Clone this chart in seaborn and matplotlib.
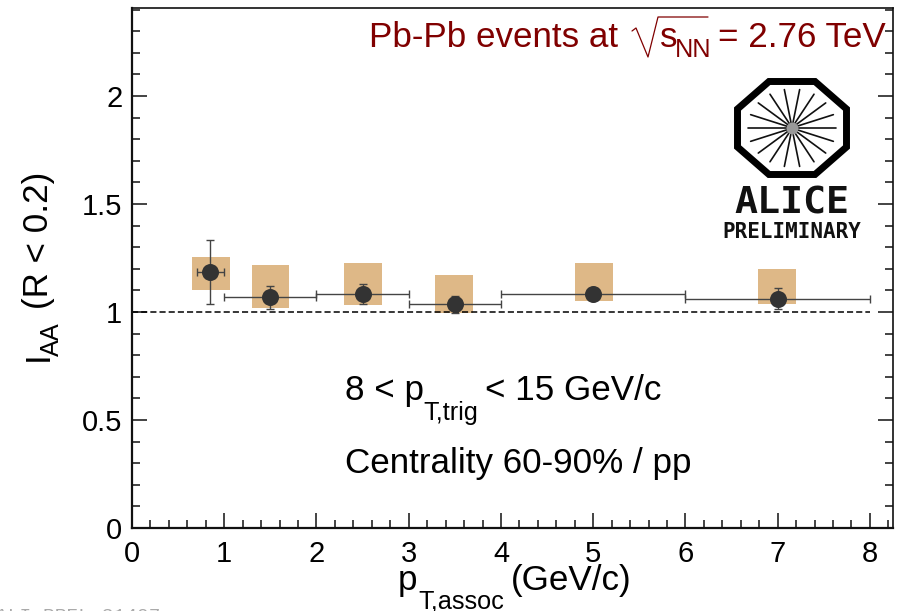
import numpy as np
import pandas as pd
import matplotlib
matplotlib.use("Agg")
import matplotlib.pyplot as plt
import seaborn as sns
from matplotlib.lines import Line2D
from matplotlib.patches import Rectangle, Polygon
from matplotlib.ticker import MultipleLocator

# values
pt_centers = [0.85, 1.5, 2.5, 3.5, 5.0, 7.0]
pt_low = [0.70, 1.0, 2.0, 3.0, 4.0, 6.0]
pt_high = [1.00, 2.0, 3.0, 4.0, 6.0, 8.0]
iaa = [1.185, 1.07, 1.083, 1.037, 1.083, 1.06]
stat_low = [1.035, 1.015, 1.037, 0.995, 1.055, 1.014]
stat_high = [1.335, 1.12, 1.13, 1.075, 1.11, 1.11]
sys_left = [0.65, 1.30, 2.30, 3.29, 4.80, 6.79]
sys_right = [1.06, 1.70, 2.71, 3.70, 5.21, 7.20]
sys_low = [1.10, 1.018, 1.032, 0.995, 1.05, 1.037]
sys_high = [1.255, 1.218, 1.227, 1.171, 1.227, 1.20]

df = pd.DataFrame({"pt": pt_centers, "iaa": iaa})

W, H = 904, 611
MAIN = 25.2
SUB = 18.2
RED = "#800000"

sns.set_theme(style="ticks")
plt.rcParams["font.family"] = ["Liberation Sans", "DejaVu Sans"]


def put(x, y, s, size=MAIN, **kw):
    # text placed in picture pixels, measured from the top left
    kw.setdefault("color", "black")
    return fig.text(x / W, 1 - y / H, s, fontsize=size, va="baseline", **kw)


fig = plt.figure(figsize=(9.04, 6.11), dpi=100)
ax = fig.add_axes([132 / W, 1 - 528 / H, 761 / W, 520 / H])

# systematic boxes
for l, r, lo, hi in zip(sys_left, sys_right, sys_low, sys_high):
    ax.add_patch(Rectangle((l, lo), r - l, hi - lo, color="#deb887", lw=0, zorder=1))

ax.plot([0, 8], [1, 1], color="black", ls=(0, (4, 2)), lw=1.1, zorder=2)

# statistical errors
xerr = [np.array(pt_centers) - np.array(pt_low), np.array(pt_high) - np.array(pt_centers)]
yerr = [np.array(iaa) - np.array(stat_low), np.array(stat_high) - np.array(iaa)]
ax.errorbar(pt_centers, iaa, xerr=xerr, yerr=yerr, fmt="none", ecolor="#444444",
            elinewidth=1, capsize=3, capthick=1, zorder=3)
sns.scatterplot(data=df, x="pt", y="iaa", color="#333333", s=150, linewidth=0, zorder=4, ax=ax)

ax.set_xlim(0, 8.25)
ax.set_ylim(0, 2.407)
ax.xaxis.set_major_locator(MultipleLocator(1))
ax.xaxis.set_minor_locator(MultipleLocator(0.2))
ax.yaxis.set_major_locator(MultipleLocator(0.5))
ax.yaxis.set_minor_locator(MultipleLocator(0.1))
ax.set_yticks([0, 0.5, 1, 1.5, 2])
ax.set_yticklabels(["0", "0.5", "1", "1.5", "2"])
ax.set_xticks(range(0, 9))
ax.tick_params(axis="both", which="major", direction="in", length=11, width=1.1,
               labelsize=21, right=True, color="#111111", labelcolor="black")
ax.tick_params(axis="both", which="minor", direction="in", length=5.5, width=1.1,
               right=True, color="#111111")
ax.tick_params(axis="x", which="major", pad=8.5)
ax.tick_params(axis="y", which="major", pad=7)
ax.spines["left"].set_linewidth(1.6)
ax.spines["bottom"].set_linewidth(1.6)
ax.spines["top"].set_linewidth(1.2)
ax.spines["right"].set_linewidth(1.2)
for s in ax.spines.values():
    s.set_color("#111111")
ax.set_xlabel("")
ax.set_ylabel("")

# x label
put(398, 590, "p")
put(418, 609, "T,assoc", SUB)
put(511, 590, "(GeV/c)")

# y label
put(48, 361, "I", rotation=90, rotation_mode="anchor", ha="left")
put(59, 356, "AA", SUB, rotation=90, rotation_mode="anchor", ha="left")
put(48, 309, "(R < 0.2)", rotation=90, rotation_mode="anchor", ha="left")

# header
put(369, 47, "Pb-Pb events at", color=RED)
put(660, 47, "s", color=RED)
put(675, 57, "NN", SUB, color=RED)
put(718, 47, "= 2.76 TeV", color=RED)
fig.add_artist(Line2D(np.array([632, 636, 648, 658, 708]) / W,
                      1 - np.array([31, 28, 57, 17, 17]) / H, color=RED, lw=0.9))

# annotations
put(345, 400, "8 < p")
put(423, 420, "T,trig", SUB)
put(485, 400, "< 15 GeV/c")
put(345, 473, "Centrality 60-90% / pp")
put(-4, 621, "ALI-PREL-31407", 14, color="#aaaaaa", family="Liberation Mono")

# ALICE logo, axes in picture pixels around the centre of the octagon
logo = fig.add_axes([732 / W, 1 - 180 / H, 120 / W, 104 / H])
logo.set_xlim(-60, 60)
logo.set_ylim(-52, 52)
logo.axis("off")
hx = [54.5, 23, -23, -54.5, -54.5, -23, 23, 54.5]
hy = [19, 46.5, 46.5, 19, -19, -46.5, -46.5, -19]
logo.add_patch(Polygon(np.c_[hx, hy], closed=True, fill=False, ec="black", lw=5, joinstyle="miter"))
for a in np.deg2rad(np.arange(0, 360, 20)):
    logo.plot([4 * np.cos(a), 44 * np.cos(a)], [4 * np.sin(a), 39 * np.sin(a)], color="#111111", lw=1.2)
logo.scatter([0], [0], s=75, color="#999999", zorder=3, linewidth=0)
put(792, 213, "ALICE", 27.5, fontweight="bold", family="DejaVu Sans Mono", ha="center", color="#111111")
put(792, 238, "PRELIMINARY", 15, fontweight="bold", family="DejaVu Sans Mono", ha="center", color="#111111")

fig.savefig("out.png", dpi=100)
